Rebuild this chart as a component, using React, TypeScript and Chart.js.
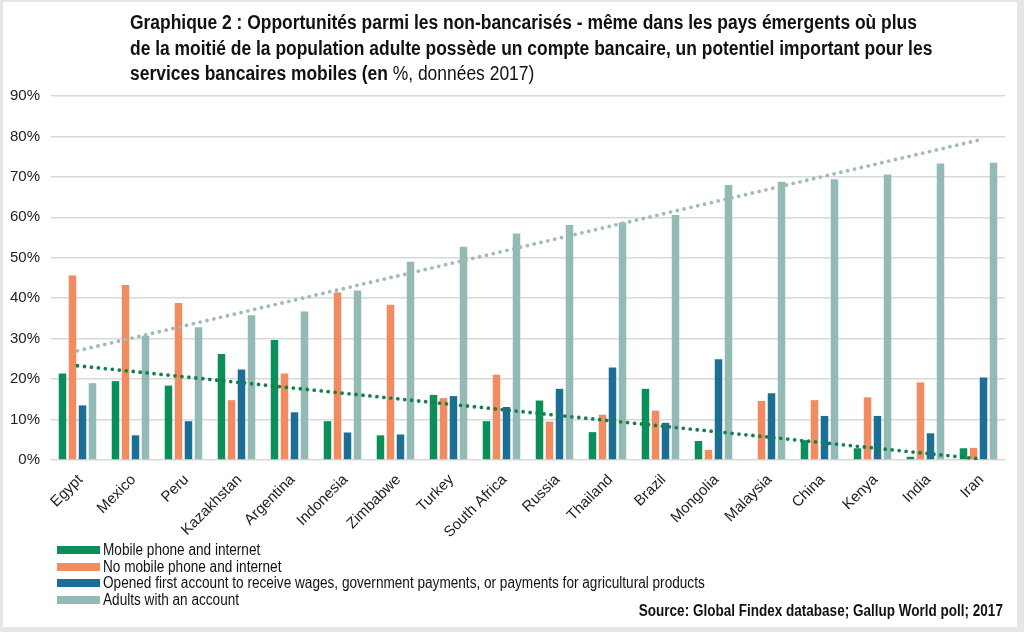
import React, { useEffect, useRef } from "react";
import { Chart, registerables } from "chart.js";

Chart.register(...registerables);

// Countries, ordered by share of adults with an account
const countries = [
  "Egypt", "Mexico", "Peru", "Kazakhstan", "Argentina", "Indonesia",
  "Zimbabwe", "Turkey", "South Africa", "Russia", "Thailand", "Brazil",
  "Mongolia", "Malaysia", "China", "Kenya", "India", "Iran",
];

// Unbanked adults with a mobile phone and internet access (%)
const mobileInternet = [
  21.4, 19.5, 18.4, 26.2, 29.7, 9.6, 6.1, 16.1, 9.6, 14.7, 6.9, 17.6,
  4.7, 0, 4.9, 2.9, 0.8, 2.9,
];

// Unbanked adults without mobile phone and internet (%)
const noMobileInternet = [
  45.6, 43.3, 38.8, 14.8, 21.4, 41.4, 38.4, 15.3, 21.1, 9.5, 11.2, 12.2,
  2.5, 14.6, 14.8, 15.5, 19.2, 3.0,
];

// Opened first account to receive wages / government / agricultural payments (%)
const firstAccountPayments = [
  13.5, 6.1, 9.6, 22.4, 11.8, 6.8, 6.3, 15.8, 13.1, 17.6, 22.9, 9.2,
  24.9, 16.5, 10.9, 10.9, 6.6, 20.4,
];

// Adults with an account (%)
const adultsWithAccount = [
  19.0, 30.7, 32.8, 35.8, 36.7, 41.9, 49.0, 52.7, 56.0, 58.1, 58.7, 60.6,
  68.0, 68.8, 69.4, 70.6, 73.3, 73.5,
];

// Linear trend endpoints (first and last country)
const accountTrend = [27.0, 79.1];
const mobileTrend = [23.3, 0.3];

const yTicks = [0, 10, 20, 30, 40, 50, 60, 70, 80, 90];

const seriesLabels = [
  "Mobile phone and internet",
  "No mobile phone and internet",
  "Opened first account to receive wages, government payments, or payments for agricultural products",
  "Adults with an account",
];
const seriesColors = ["#0a8f5b", "#f28b5f", "#1b6f94", "#94bab5"];

const titleLines = [
  "Graphique 2 : Opportunités parmi les non-bancarisés - même dans les pays émergents où plus",
  "de la moitié de la population adulte possède un compte bancaire, un potentiel important pour les",
];
const titleLastBold = "services bancaires mobiles (en ";
const titleLastRegular = "%, données 2017)";
const sourceText = "Source: Global Findex database; Gallup World poll; 2017";

const SANS = "'Liberation Sans', Arial, sans-serif";

function endpoints(pair: number[]) {
  const last = countries.length - 1;
  return countries.map((_, i) => (i === 0 ? pair[0] : i === last ? pair[1] : null));
}

// Condensed text line (horizontal squeeze of a regular sans face)
function Squeezed({
  children,
  scale,
  origin = "left",
}: {
  children: React.ReactNode;
  scale: number;
  origin?: string;
}) {
  return (
    <span
      style={{
        display: "inline-block",
        whiteSpace: "nowrap",
        transform: `scaleX(${scale})`,
        transformOrigin: origin,
      }}
    >
      {children}
    </span>
  );
}

export default function App() {
  const canvasRef = useRef<HTMLCanvasElement | null>(null);

  useEffect(() => {
    if (!canvasRef.current) return;
    const values = [mobileInternet, noMobileInternet, firstAccountPayments, adultsWithAccount];
    const chart = new Chart(canvasRef.current, {
      type: "bar",
      data: {
        labels: countries,
        datasets: [
          ...values.map((data, i) => ({
            type: "bar" as const,
            label: seriesLabels[i],
            data,
            backgroundColor: seriesColors[i],
            categoryPercentage: 0.755,
            barPercentage: 0.75,
            order: 2,
          })),
          {
            type: "line" as const,
            label: "trend-account",
            data: endpoints(accountTrend),
            spanGaps: true,
            borderColor: "#a0bbb7",
            borderWidth: 3.8,
            borderDash: [0, 7],
            borderCapStyle: "round" as const,
            pointRadius: 0,
            fill: false,
            order: 1,
          },
          {
            type: "line" as const,
            label: "trend-mobile",
            data: endpoints(mobileTrend),
            spanGaps: true,
            borderColor: "#15804f",
            borderWidth: 3.8,
            borderDash: [0, 7],
            borderCapStyle: "round" as const,
            pointRadius: 0,
            fill: false,
            order: 1,
          },
        ] as any,
      },
      options: {
        animation: false,
        responsive: true,
        maintainAspectRatio: false,
        layout: { padding: { left: 0, right: 19, top: 96, bottom: 92 } },
        plugins: {
          legend: { display: false },
          tooltip: { enabled: false },
          title: { display: false },
        },
        scales: {
          x: {
            grid: { display: false, drawTicks: false },
            border: { display: false },
            afterFit: (s: any) => {
              s.height = 80;
              s.paddingLeft = 0;
              s.paddingRight = 0;
            },
            ticks: {
              autoSkip: false,
              maxRotation: 45,
              minRotation: 45,
              padding: 11,
              labelOffset: 3,
              color: "#222",
              font: { family: SANS, size: 15 },
            },
          },
          y: {
            min: 0,
            max: 90,
            afterFit: (s: any) => {
              s.width = 51;
            },
            afterBuildTicks: (s: any) => {
              s.ticks = yTicks.map((v) => ({ value: v }));
            },
            grid: { color: "#d9d9d9", lineWidth: 1.5, drawTicks: false },
            border: { display: false },
            ticks: {
              padding: 11,
              color: "#222",
              font: { family: SANS, size: 15 },
              callback: (v: any) => `${v}%`,
            },
          },
        },
      },
    });
    return () => chart.destroy();
  }, []);

  return (
    <div
      style={{
        position: "absolute",
        left: 0,
        top: 0,
        width: 1024,
        height: 632,
        background: "#fff",
        overflow: "hidden",
      }}
    >
      <div style={{ position: "absolute", left: 0, top: 0, width: 1024, height: 632 }}>
        <canvas ref={canvasRef} />
      </div>
      <div
        style={{
          position: "absolute",
          left: 130,
          top: 10,
          fontFamily: SANS,
          fontSize: 20,
          lineHeight: "25.5px",
          color: "#111",
          fontWeight: 700,
        }}
      >
        {titleLines.map((line) => (
          <div key={line}>
            <Squeezed scale={0.872}>{line}</Squeezed>
          </div>
        ))}
        <div>
          <Squeezed scale={0.872}>
            {titleLastBold}
            <span style={{ fontWeight: 400 }}>{titleLastRegular}</span>
          </Squeezed>
        </div>
      </div>
      <div
        style={{
          position: "absolute",
          left: 57,
          top: 542,
          fontFamily: SANS,
          fontSize: 16,
          color: "#111",
        }}
      >
        {seriesLabels.map((label, i) => (
          <div key={label} style={{ display: "flex", alignItems: "center", height: 16.5 }}>
            <span
              style={{
                display: "inline-block",
                width: 43,
                height: 8,
                background: seriesColors[i],
                marginRight: 3,
                flex: "none",
              }}
            />
            <Squeezed scale={0.85}>{label}</Squeezed>
          </div>
        ))}
      </div>
      <div
        style={{
          position: "absolute",
          right: 21,
          top: 602,
          fontFamily: SANS,
          fontSize: 16,
          fontWeight: 700,
          color: "#111",
          textAlign: "right",
        }}
      >
        <Squeezed scale={0.845} origin="right">
          {sourceText}
        </Squeezed>
      </div>
      <div
        style={{
          position: "absolute",
          left: 0,
          top: 0,
          width: 1024,
          height: 632,
          boxSizing: "border-box",
          borderStyle: "solid",
          borderColor: "#e6e6e6",
          borderWidth: "2px 7px 5px 3px",
          pointerEvents: "none",
        }}
      />
    </div>
  );
}
